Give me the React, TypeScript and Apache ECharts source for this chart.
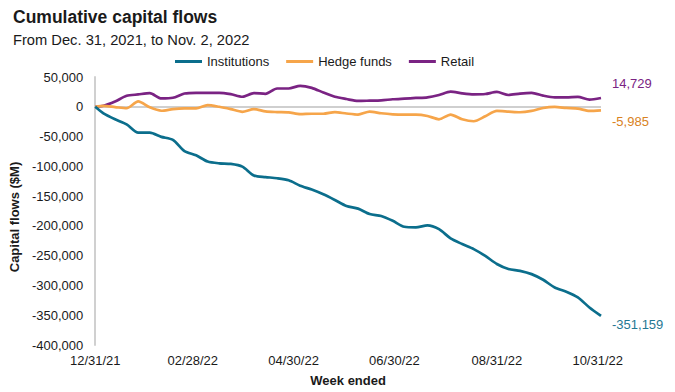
import React, { useEffect, useRef } from "react";
import * as echarts from "echarts";

const weekDates = [
  "2021-12-31", "2022-01-05", "2022-01-12", "2022-01-19", "2022-01-26",
  "2022-02-02", "2022-02-09", "2022-02-16", "2022-02-23",
  "2022-03-02", "2022-03-09", "2022-03-16", "2022-03-23", "2022-03-30",
  "2022-04-06", "2022-04-13", "2022-04-20", "2022-04-27",
  "2022-05-04", "2022-05-11", "2022-05-18", "2022-05-25",
  "2022-06-01", "2022-06-08", "2022-06-15", "2022-06-22", "2022-06-29",
  "2022-07-06", "2022-07-13", "2022-07-20", "2022-07-27",
  "2022-08-03", "2022-08-10", "2022-08-17", "2022-08-24", "2022-08-31",
  "2022-09-07", "2022-09-14", "2022-09-21", "2022-09-28",
  "2022-10-05", "2022-10-12", "2022-10-19", "2022-10-26", "2022-11-02",
];

const institutions = [
  0, -11000, -21000, -29500, -43500, -43500, -50500, -55500, -74500,
  -81500, -92000, -95000, -96000, -100500, -115500, -118000, -120000, -123500,
  -132500, -139000, -147000, -156500, -166500, -171000, -180000, -183500, -191500,
  -201500, -202500, -199000, -205500, -221000, -230500, -239000, -250500, -264000,
  -272500, -275500, -281000, -290500, -303500, -310500, -320000, -337000, -351159,
];

const hedgeFunds = [
  0, 1500, -500, -2500, 9000, -1000, -6700, -3900, -2800,
  -2800, 2800, 0, -3900, -8400, -3900, -7800, -8900, -9500,
  -12300, -11700, -11700, -8900, -11300, -13100, -8100, -10900, -12600,
  -13100, -13100, -15400, -21000, -13100, -21000, -24300, -15900, -7000,
  -8100, -9200, -7000, -2000, -300, -2000, -3100, -7000, -5985,
];

const retail = [
  0, 1700, 8900, 18400, 20700, 22900, 14000, 15100, 22300,
  23500, 23500, 23500, 21200, 16800, 22900, 21800, 30700, 30700,
  35200, 31800, 24000, 16800, 13000, 9800, 10300, 10900, 12600,
  13700, 14800, 15900, 19800, 25400, 22600, 20900, 21500, 24900,
  19800, 22100, 23200, 18700, 15900, 15900, 16500, 12000, 14729,
];

const xTickLabels = ["12/31/21", "02/28/22", "04/30/22", "06/30/22", "08/31/22", "10/31/22"];

const seriesNames = ["Institutions", "Hedge funds", "Retail"];
const lineColors = ["#0b6e8c", "#f6a54a", "#7a2383"];
const endLabelColors = ["#1f7893", "#d98222", "#7a2383"];

const DAY = 86400000;
const utcIso = (s: string) => {
  const [y, m, d] = s.split("-").map(Number);
  return Date.UTC(y, m - 1, d);
};
const utcMdy = (s: string) => {
  const [m, d, y] = s.split("/").map(Number);
  return Date.UTC(2000 + y, m - 1, d);
};
const ORIGIN = utcIso(weekDates[0]);
const dayOf = (ts: number) => Math.round((ts - ORIGIN) / DAY);
const pad = (n: number) => (n < 10 ? "0" + n : "" + n);
const fmtDay = (day: number) => {
  const d = new Date(ORIGIN + Math.round(day) * DAY);
  return pad(d.getUTCMonth() + 1) + "/" + pad(d.getUTCDate()) + "/" + pad(d.getUTCFullYear() % 100);
};
const fmtNum = (v: number) => Math.round(v).toLocaleString("en-US");

const FONT = "Liberation Sans, Arial, sans-serif";

export default function App() {
  const ref = useRef<HTMLDivElement>(null);

  useEffect(() => {
    document.body.style.margin = "0";
    if (!ref.current) return;
    const chart = echarts.init(ref.current, undefined, { renderer: "svg" });
    const xs = weekDates.map((s) => dayOf(utcIso(s)));
    const allData = [institutions, hedgeFunds, retail];
    const endOffsets = [[0, 9], [0, 11], [0, -15]];

    const series: any[] = allData.map((arr, i) => ({
      name: seriesNames[i],
      type: "line",
      data: arr.map((v, j) => [xs[j], v]),
      symbol: "none",
      smooth: 0.25,
      lineStyle: { color: lineColors[i], width: 2.7 },
      itemStyle: { color: lineColors[i] },
      z: 3 + (2 - i),
      endLabel: {
        show: true,
        distance: 11,
        offset: endOffsets[i],
        color: endLabelColors[i],
        fontSize: 13,
        fontFamily: FONT,
        formatter: (p: any) => fmtNum(p.value[1]),
      },
      markLine:
        i === 0
          ? {
              silent: true,
              symbol: "none",
              z: 1,
              label: { show: false },
              lineStyle: { color: "#bfbfbf", width: 1.5, type: "solid" },
              data: [{ yAxis: 0 }],
            }
          : undefined,
    }));

    chart.setOption({
      animation: false,
      backgroundColor: "#ffffff",
      textStyle: { fontFamily: FONT },
      title: [
        {
          text: "Cumulative capital flows",
          left: 8,
          top: 3,
          textStyle: { fontSize: 17.5, fontWeight: "bold", color: "#1a1a1a", fontFamily: FONT },
        },
        {
          text: "From Dec. 31, 2021, to Nov. 2, 2022",
          left: 8,
          top: 27,
          textStyle: { fontSize: 14.7, fontWeight: "normal", color: "#1a1a1a", fontFamily: FONT },
        },
      ],
      legend: {
        data: seriesNames,
        left: 170,
        top: 50,
        icon: "rect",
        itemWidth: 27,
        itemHeight: 3,
        itemGap: 17,
        textStyle: { fontSize: 13, color: "#1a1a1a", fontFamily: FONT },
      },
      grid: { left: 94, right: 74, top: 77, bottom: 46 },
      xAxis: {
        type: "value",
        min: xs[0],
        max: xs[xs.length - 1],
        name: "Week ended",
        nameLocation: "middle",
        nameGap: 29,
        nameTextStyle: { fontSize: 13, fontWeight: "bold", color: "#1a1a1a", fontFamily: FONT },
        axisLine: { show: false },
        axisTick: { show: false },
        splitLine: { show: false },
        axisLabel: {
          customValues: xTickLabels.map((s) => dayOf(utcMdy(s))),
          formatter: (v: number) => fmtDay(v),
          margin: 9,
          fontSize: 13,
          color: "#1a1a1a",
          fontFamily: FONT,
          hideOverlap: false,
        },
      },
      yAxis: {
        type: "value",
        min: -400000,
        max: 50000,
        interval: 50000,
        name: "Capital flows ($M)",
        nameLocation: "middle",
        nameGap: 72,
        nameRotate: 90,
        nameTextStyle: { fontSize: 13, fontWeight: "bold", color: "#1a1a1a", fontFamily: FONT, padding: [0, 12, 0, 0] },
        axisLine: { show: true, lineStyle: { color: "#d0d0d0", width: 2 } },
        axisTick: { show: false },
        splitLine: { show: false },
        axisLabel: {
          formatter: (v: number) => fmtNum(v),
          margin: 12,
          fontSize: 13,
          color: "#1a1a1a",
          fontFamily: FONT,
        },
      },
      series,
    });

    return () => chart.dispose();
  }, []);

  return <div ref={ref} style={{ width: 675, height: 392 }} />;
}
